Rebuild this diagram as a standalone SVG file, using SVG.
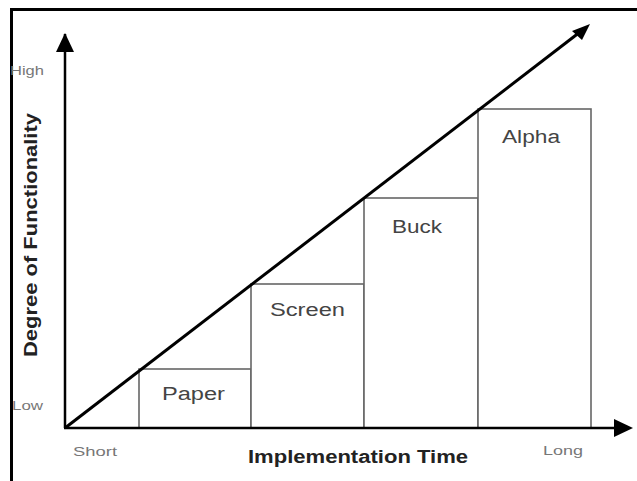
<svg xmlns="http://www.w3.org/2000/svg" width="637" height="481" viewBox="0 0 637 481">
<defs>
<style>
.ax{stroke:#000;stroke-width:2.5;fill:none}
.box{stroke:#666;stroke-width:1.6;fill:#fff}
.lbl{font-family:"Liberation Sans",Arial,sans-serif;font-size:18px;fill:#444}
.tick{font-family:"Liberation Sans",Arial,sans-serif;font-size:12px;fill:#777}
.title{font-family:"Liberation Sans",Arial,sans-serif;font-size:18px;font-weight:bold;fill:#222}
</style>
</defs>
<rect x="0" y="0" width="637" height="481" fill="#fff"/>
<path d="M11.5,481 V9.5 H637" stroke="#000" stroke-width="3" fill="none"/>
<g id="paper"><rect class="box" x="139" y="369" width="112" height="59"/><text class="lbl" x="162" y="400" textLength="63" lengthAdjust="spacingAndGlyphs">Paper</text></g>
<g id="screen"><rect class="box" x="251" y="284" width="113" height="144"/><text class="lbl" x="270" y="316" textLength="75" lengthAdjust="spacingAndGlyphs">Screen</text></g>
<g id="buck"><rect class="box" x="364" y="198" width="114" height="230"/><text class="lbl" x="392" y="233" textLength="50" lengthAdjust="spacingAndGlyphs">Buck</text></g>
<g id="alpha"><rect class="box" x="478" y="109" width="113" height="319"/><text class="lbl" x="502" y="143" textLength="58" lengthAdjust="spacingAndGlyphs">Alpha</text></g>
<g id="connectors">
<line x1="65" y1="428" x2="65" y2="34" class="ax"/>
<path d="M56,52 L65,33 L74,52 z" fill="#000"/>
<line x1="64" y1="428" x2="617" y2="428" class="ax"/>
<path d="M614,419 L633,428 L614,437 z" fill="#000"/>
<line x1="65" y1="428" x2="580" y2="32" stroke="#000" stroke-width="3"/>
<path d="M590,24 L572,31 L582,40 z" fill="#000"/>
</g>
<g id="labels">
<text class="tick" x="10" y="75" textLength="34" lengthAdjust="spacingAndGlyphs">High</text>
<text class="tick" x="12" y="410" textLength="31" lengthAdjust="spacingAndGlyphs">Low</text>
<text class="tick" x="73" y="456" textLength="44" lengthAdjust="spacingAndGlyphs">Short</text>
<text class="tick" x="543" y="455" textLength="40" lengthAdjust="spacingAndGlyphs">Long</text>
<text class="title" x="248" y="463" textLength="220" lengthAdjust="spacingAndGlyphs">Implementation Time</text>
<text class="title" transform="translate(37,357) rotate(-90)" x="0" y="0" textLength="244" lengthAdjust="spacingAndGlyphs">Degree of Functionality</text>
</g>
</svg>
